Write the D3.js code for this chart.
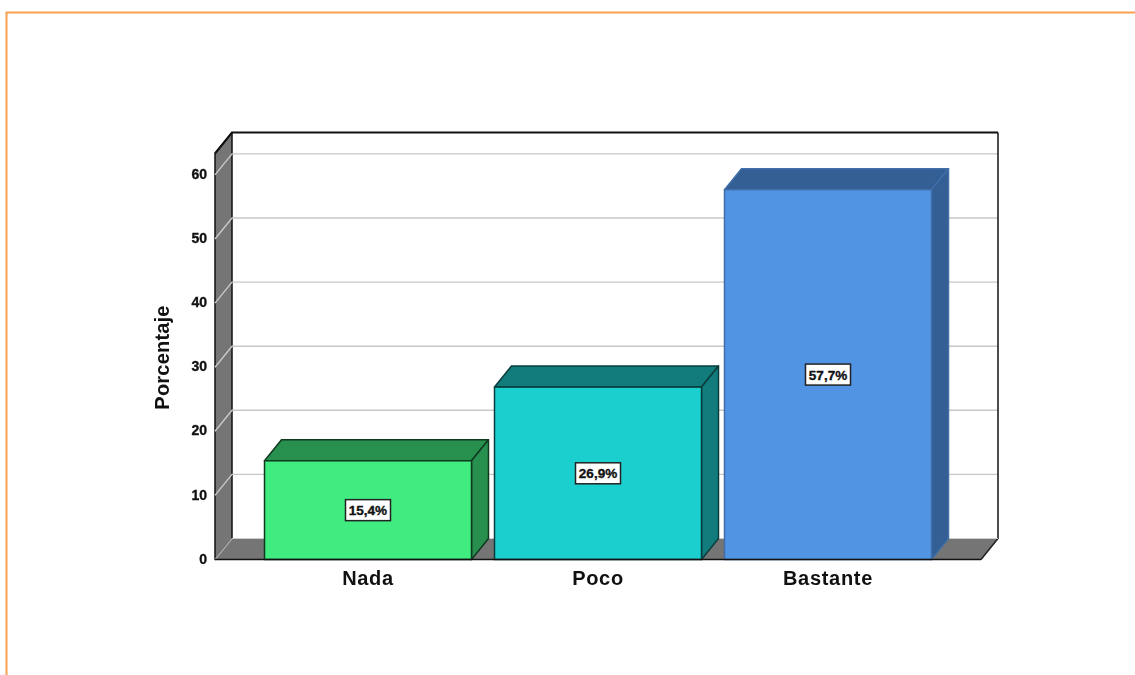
<!DOCTYPE html>
<html><head><meta charset="utf-8">
<script src="https://cdn.jsdelivr.net/npm/d3@7"></script>
<style>html,body{margin:0;padding:0;background:#fff}svg{display:block;filter:blur(0.35px)}text{font-family:"Liberation Sans",Arial,sans-serif}</style>
</head><body><svg id="c" width="1135" height="675"></svg>
<script>
const categories = ["Nada","Poco","Bastante"];
const values = [15.4,26.9,57.7];
const valueLabels = ["15,4%","26,9%","57,7%"];
const tickValues = [0,10,20,30,40,50,60];
const frontColors = ["#40ec80","#1bcfcf","#5294e4"];
const sideColors = ["#27904e","#127c7c","#345f94"];
const strokeColors = ["#0f3a20","#0b3c3c","#3f6ea8"];
const axisTitle = "Porcentaje";
const svg = d3.select("#c");
const W=1135,H=675;
const dx=17, dy=21;
const x0=215,x1=981,y0=559.5,yTop=153.5;
const y=d3.scaleLinear().domain([0,63.34]).range([y0,yTop]);
const x=d3.scaleBand().domain(categories).range([x0,x1]).paddingInner(0.1).paddingOuter(0.2152);
const poly=p=>p.map(q=>q.join(",")).join(" ");

// outer frame
svg.append("path").attr("d",`M6.5,${H} V12.5 H${W}`).attr("fill","none").attr("stroke","#f9a050").attr("stroke-width",2);

// back wall
svg.append("polygon").attr("points",poly([[x0+dx,yTop-dy],[x1+dx,yTop-dy],[x1+dx,y0-dy],[x0+dx,y0-dy]])).attr("fill","#fff");
// left wall, floor
svg.append("polygon").attr("points",poly([[x0,yTop],[x0+dx,yTop-dy],[x0+dx,y0-dy],[x0,y0]])).attr("fill","#757575").attr("stroke","#111").attr("stroke-width",1.5).attr("stroke-linejoin","round");
svg.append("polygon").attr("points",poly([[x0,y0],[x0+dx,y0-dy],[x1+dx,y0-dy],[x1,y0]])).attr("fill","#757575");

// gridlines
const grid=svg.append("g").attr("fill","none").attr("stroke","#c8c8c8").attr("stroke-width",1.4);
tickValues.filter(t=>t>0).forEach(t=>{
  grid.append("path").attr("d",`M${x0},${y(t)} L${x0+dx},${y(t)-dy} H${x1+dx}`);
});
grid.append("path").attr("d",`M${x0},${y0} L${x0+dx},${y0-dy}`).attr("stroke","#aaa");

// outer back frame
svg.append("path").attr("d",`M${x0},${yTop} L${x0+dx},${yTop-dy} H${x1+dx}`).attr("fill","none").attr("stroke","#111").attr("stroke-width",2);
svg.append("path").attr("d",`M${x1+dx},${yTop-dy} V${y0-dy} L${x1},${y0}`).attr("fill","none").attr("stroke","#222").attr("stroke-width",1.6);
svg.append("path").attr("d",`M${x0+dx},${y0-dy} H${x1+dx}`).attr("fill","none").attr("stroke","#ccc").attr("stroke-width",1);

// y axis
const yAxis=d3.axisLeft(y).tickValues(tickValues).tickSize(0).tickPadding(8).tickFormat(d3.format("d"));
const ga=svg.append("g").attr("transform",`translate(${x0},-0.8)`).call(yAxis);
ga.select(".domain").remove();
ga.selectAll("text").attr("font-size",14).attr("font-weight","bold").attr("fill","#111").attr("stroke","#111").attr("stroke-width",0.35).style("font-family",'"Liberation Sans",Arial,sans-serif');

// bars
const bars=svg.selectAll("g.bar").data(categories).join("g").attr("class","bar");
bars.each(function(c,i){
  const g=d3.select(this), l=x(c), r=l+x.bandwidth(), t=y(values[i]);
  const st={stroke:strokeColors[i]};
  g.append("polygon").attr("points",poly([[l,t],[l+dx,t-dy],[r+dx,t-dy],[r,t]])).attr("fill",sideColors[i]).attr("stroke",st.stroke).attr("stroke-width",1.5).attr("stroke-linejoin","round");
  g.append("polygon").attr("points",poly([[r,t],[r+dx,t-dy],[r+dx,y0-dy],[r,y0]])).attr("fill",sideColors[i]).attr("stroke",st.stroke).attr("stroke-width",1.5).attr("stroke-linejoin","round");
  g.append("rect").attr("x",l).attr("y",t).attr("width",x.bandwidth()).attr("height",y0-t).attr("fill",frontColors[i]).attr("stroke",st.stroke).attr("stroke-width",1.5);
  const cx=l+x.bandwidth()/2, cy=(t+y0)/2;
  g.append("rect").attr("x",cx-22.5).attr("y",cy-10.5).attr("width",45).attr("height",21).attr("fill","#fff").attr("stroke","#222").attr("stroke-width",1.5);
  g.append("text").attr("x",cx).attr("y",cy+5).attr("text-anchor","middle").attr("font-size",13.5).attr("font-weight","bold").attr("fill","#111").attr("stroke","#111").attr("stroke-width",0.35).text(valueLabels[i]);
});

// base line
svg.append("line").attr("x1",x0).attr("x2",x1).attr("y1",y0).attr("y2",y0).attr("stroke","#111").attr("stroke-width",1.6);

// x axis labels
const xAxis=d3.axisBottom(x).tickSize(0).tickPadding(11);
const gx=svg.append("g").attr("transform",`translate(0,${y0})`).call(xAxis);
gx.select(".domain").remove();
gx.selectAll("text").attr("font-size",20).attr("font-weight","bold").attr("fill","#111").attr("letter-spacing",0.7).style("font-family",'"Liberation Sans",Arial,sans-serif');

// y title
svg.append("text").attr("transform","translate(168.5,357.5) rotate(-90)").attr("text-anchor","middle").attr("font-size",20).attr("font-weight","bold").attr("fill","#111").attr("letter-spacing",0.2).text(axisTitle);
</script></body></html>
